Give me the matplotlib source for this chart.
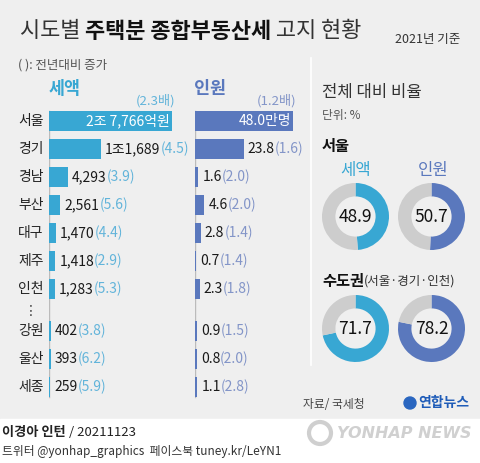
import numpy as np
import matplotlib
matplotlib.use("Agg")
import matplotlib.pyplot as plt
from matplotlib.patches import Rectangle, Circle

plt.rcParams['font.family'] = ['Noto Sans CJK KR', 'DejaVu Sans']

# 데이터
regions = ['서울', '경기', '경남', '부산', '대구', '제주', '인천', '강원', '울산', '세종']
tax = [27766, 11689, 4293, 2561, 1470, 1418, 1283, 402, 393, 259]
tax_labels = ['2조 7,766억원', '1조1,689', '4,293', '2,561', '1,470', '1,418', '1,283', '402', '393', '259']
tax_growth = ['2.3배', '4.5', '3.9', '5.6', '4.4', '2.9', '5.3', '3.8', '6.2', '5.9']
people = [48.0, 23.8, 1.6, 4.6, 2.8, 0.7, 2.3, 0.9, 0.8, 1.1]
people_labels = ['48.0만명', '23.8', '1.6', '4.6', '2.8', '0.7', '2.3', '0.9', '0.8', '1.1']
people_growth = ['1.2배', '1.6', '2.0', '2.0', '1.4', '1.4', '1.8', '1.5', '2.0', '2.8']
seoul_share = [48.9, 50.7]
capital_share = [71.7, 78.2]

# 색상
c_tax = '#38a7d3'
c_tax_lt = '#62b4da'
c_ppl = '#5a78bd'
c_ppl_lt = '#8395c8'
c_gray = '#cdcdcd'
bg = '#efefef'

W, H = 480, 463


def box(x, y, w, h):
    # 픽셀 좌표 -> figure 좌표
    return [x / W, 1 - (y + h) / H, w / W, h / H]


fig = plt.figure(figsize=(W / 100, H / 100), dpi=100)
fig.patch.set_facecolor(bg)

# 전체 오버레이 (픽셀 좌표)
ov = fig.add_axes([0, 0, 1, 1], zorder=0)
ov.set_xlim(0, W)
ov.set_ylim(H, 0)
ov.axis('off')
ov.patch.set_alpha(0)

ov.add_patch(Rectangle((0, 419), W, H - 419, color='white', zorder=0))
ov.plot([311, 311], [58, 365], color='white', lw=1.2)

# 제목
t = ov.text(20, 31, '시도별 ', fontsize=15.8, color='#333333', va='center')
t = ov.annotate('주택분 종합부동산세', xy=(1, 0.5), xycoords=t, fontsize=15.8,
                fontweight='bold', color='#111111', va='center')
ov.annotate(' 고지 현황', xy=(1, 0.5), xycoords=t, fontsize=15.8, color='#333333', va='center')
ov.text(460, 39, '2021년 기준', fontsize=9, color='#333333', ha='right', va='center', style='italic')
ov.text(18, 65, '( ): 전년대비 증가', fontsize=9, color='#555555', va='center')

# 헤더
ov.text(65, 89, '세액', fontsize=12.5, fontweight='bold', color=c_tax, ha='center', va='center')
ov.text(175, 101, '(' + tax_growth[0] + ')', fontsize=9.5, color=c_tax_lt, ha='right', va='center')
ov.text(210, 89, '인원', fontsize=12.5, fontweight='bold', color=c_ppl, ha='center', va='center')
ov.text(296, 101, '(' + people_growth[0] + ')', fontsize=9.5, color=c_ppl_lt, ha='right', va='center')

# 막대 위치
ypos = [0, 1, 2, 3, 4, 5, 6, 7.5, 8.5, 9.5]
top, bottom = 107, 401


def bar_panel(x0, width, vals, labels, growth, vmax, color, color_lt):
    ax = fig.add_axes(box(x0, top, width, bottom - top), zorder=2)
    ax.patch.set_alpha(0)
    ax.set_xlim(0, vmax)
    ax.set_ylim(10.0, -0.5)
    ax.axis('off')
    ax.plot([0, 0], [-0.35, 9.85], color='#bbbbbb', lw=1, zorder=1)
    ax.barh(ypos, vals, height=0.68, color=color, zorder=2)
    for i, (v, lab, g) in enumerate(zip(vals, labels, growth)):
        if i == 0:
            ax.text(v - vmax * 0.015, ypos[i], lab, color='white', fontsize=10,
                    ha='right', va='center', zorder=3)
            continue
        tt = ax.annotate(lab, xy=(v, ypos[i]), xytext=(3, 0), textcoords='offset points',
                         fontsize=10, color='#1a1a1a', ha='left', va='center', zorder=3)
        ax.annotate('(' + g + ')', xy=(1, 0.5), xycoords=tt, fontsize=10,
                    color=color_lt, ha='left', va='center', zorder=3)
    return ax


ax1 = bar_panel(49, 123, tax, tax_labels, tax_growth, tax[0], c_tax, c_tax_lt)
ax2 = bar_panel(195, 98, people, people_labels, people_growth, people[0], c_ppl, c_ppl_lt)

for r, y in zip(regions, ypos):
    ax1.text(-18 / 123 * tax[0], y, r, fontsize=10, color='#222222', ha='center', va='center')
ov.text(31, 311, '⋮', fontsize=10, color='#444444', ha='center', va='center')

# 오른쪽 패널
ov.text(322, 92, '전체 대비 비율', fontsize=12, color='#333333', va='center')
ov.text(322, 115, '단위: %', fontsize=8.5, color='#555555', va='center')
ov.text(322, 146, '서울', fontsize=11, fontweight='bold', color='#111111', va='center')
ov.text(356, 170, '세액', fontsize=12, color=c_tax, ha='center', va='center')
ov.text(433, 170, '인원', fontsize=12, color=c_ppl, ha='center', va='center')
t = ov.text(322, 281, '수도권', fontsize=11, fontweight='bold', color='#111111', va='center')
ov.annotate('(서울·경기·인천)', xy=(1, 0.5), xycoords=t, fontsize=9, color='#333333', va='center')


def donut(cx, cy, val, color):
    r = 33.5
    ax = fig.add_axes(box(cx - r, cy - r, 2 * r, 2 * r), zorder=2)
    ax.pie([val, 100 - val], colors=[color, c_gray], startangle=90, counterclock=False,
           radius=1, wedgeprops=dict(width=0.4, linewidth=0))
    ax.set_xlim(-1, 1)
    ax.set_ylim(-1, 1)
    ax.axis('off')
    ax.text(0, 0, f'{val:.1f}', fontsize=12.5, color='#111111', ha='center', va='center')


donut(355.5, 216.5, seoul_share[0], c_tax)
donut(431.5, 216.5, seoul_share[1], c_ppl)
donut(355.5, 328.5, capital_share[0], c_tax)
donut(431.5, 328.5, capital_share[1], c_ppl)

# 하단
ov.text(303, 405, '자료/ 국세청', fontsize=8.5, color='#444444', va='center')
ov.add_patch(Circle((410, 403), 6, color='#2a66c0', zorder=3))
ov.text(418, 403, '연합뉴스', fontsize=10, fontweight='bold', color='#1f5cb8', va='center')
t = ov.text(2, 432, '이경아 인턴', fontsize=9.5, fontweight='bold', color='#222222', va='center')
ov.annotate(' / 20211123', xy=(1, 0.5), xycoords=t, fontsize=9.5, color='#222222', va='center')
ov.text(2, 452, '트위터 @yonhap_graphics  페이스북 tuney.kr/LeYN1', fontsize=8.5, color='#333333', va='center')
ov.add_patch(Circle((320, 433), 11, fill=False, ec='#cfcfcf', lw=3, zorder=3))
ov.text(337, 433, 'YONHAP NEWS', fontsize=11.5, fontweight='bold', style='italic',
        color='#d0d0d0', va='center', family='DejaVu Sans')

fig.savefig('out.png', dpi=100, facecolor=fig.get_facecolor())
